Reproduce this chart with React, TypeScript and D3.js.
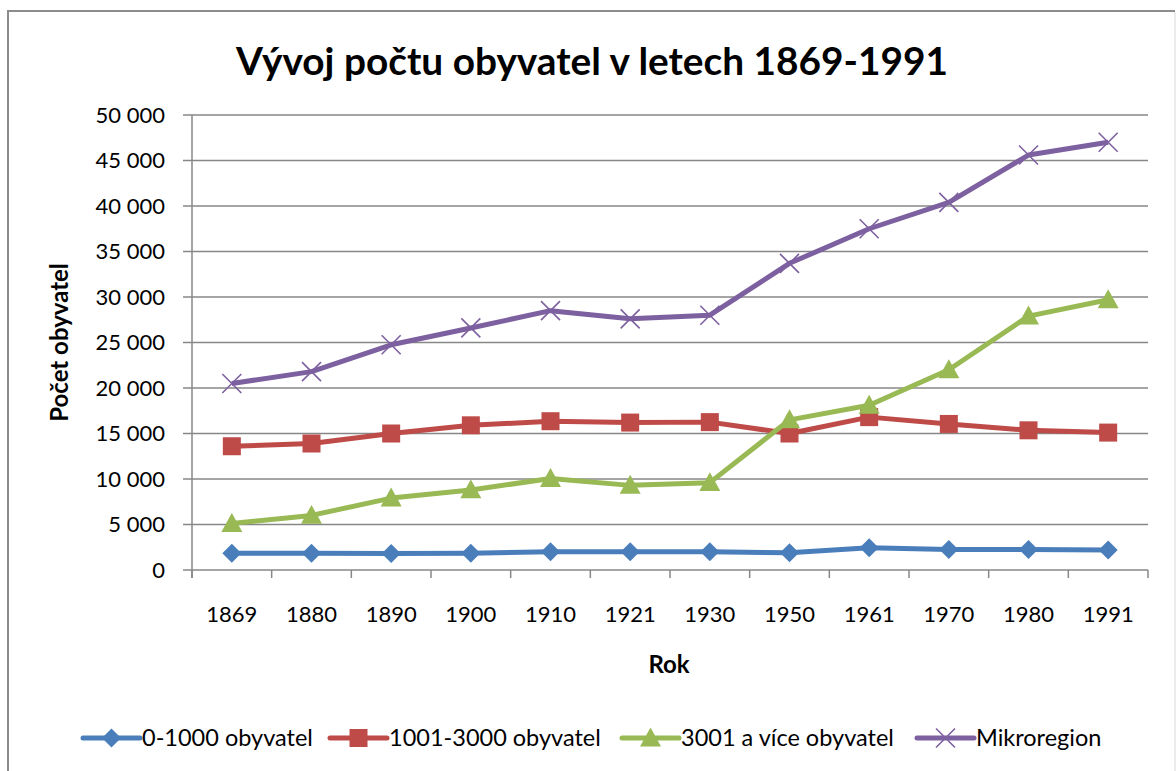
import * as d3 from 'd3';
import React from 'react';

const years = ['1869', '1880', '1890', '1900', '1910', '1921', '1930', '1950', '1961', '1970', '1980', '1991'];
const small = [1850, 1850, 1800, 1850, 2000, 2000, 2000, 1900, 2450, 2250, 2250, 2200];
const middle = [13600, 13900, 15000, 15900, 16350, 16200, 16250, 15000, 16800, 16050, 15350, 15100];
const large = [5100, 6000, 7900, 8800, 10050, 9300, 9600, 16500, 18100, 22000, 27900, 29700];
const micro = [20500, 21800, 24750, 26600, 28500, 27600, 28000, 33700, 37500, 40400, 45600, 47000];
const yTicks = [0, 5000, 10000, 15000, 20000, 25000, 30000, 35000, 40000, 45000, 50000];

const series = [
  { name: '0-1000 obyvatel', values: small, color: '#4a7ebb', marker: 'diamond' },
  { name: '1001-3000 obyvatel', values: middle, color: '#be4b48', marker: 'square' },
  { name: '3001 a více obyvatel', values: large, color: '#98b954', marker: 'triangle' },
  { name: 'Mikroregion', values: micro, color: '#7d60a0', marker: 'x' },
];

const font = 'Lato, "Open Sans", sans-serif';
const W = 1176;
const H = 771;
const left = 192;
const right = 1148;
const top = 115;
const bottom = 570;

const fmt = (v: number) => d3.format(',')(v).replace(/,/g, ' ');

function Marker({ kind, x, y, color }: { kind: string; x: number; y: number; color: string }) {
  if (kind === 'diamond') {
    const r = 9.5;
    return <path d={`M${x},${y - r}L${x + r},${y}L${x},${y + r}L${x - r},${y}Z`} fill={color} />;
  }
  if (kind === 'square') {
    const r = 9;
    return <rect x={x - r} y={y - r} width={r * 2} height={r * 2} fill={color} />;
  }
  if (kind === 'triangle') {
    const r = 10.5;
    return <path d={`M${x},${y - r}L${x + r},${y + r * 0.8}L${x - r},${y + r * 0.8}Z`} fill={color} />;
  }
  const r = 9.5;
  return (
    <path
      d={`M${x - r},${y - r}L${x + r},${y + r}M${x - r},${y + r}L${x + r},${y - r}`}
      stroke={color}
      strokeWidth={1.6}
      fill="none"
    />
  );
}

export default function App() {
  const x = d3.scaleBand().domain(years).range([left, right]);
  const y = d3.scaleLinear().domain([0, 50000]).range([bottom, top]);
  const cx = (yr: string) => (x(yr) as number) + x.bandwidth() / 2;

  const line = d3
    .line<number>()
    .x((_, i) => cx(years[i]))
    .y((d) => y(d));

  const legendX = [83, 330, 622, 917];

  return (
    <svg width={W} height={H} style={{ position: 'absolute', left: 0, top: 0 }} fontFamily={font}>
      <rect x={0} y={0} width={W} height={H} fill="#fff" />
      {/* frame */}
      <line x1={8} y1={11} x2={1175} y2={11} stroke="#8c8c8c" strokeWidth={2} />
      <line x1={8} y1={10} x2={8} y2={H} stroke="#8c8c8c" strokeWidth={2} />
      <line x1={1175} y1={12} x2={1175} y2={H} stroke="#d9d9d9" strokeWidth={1} />

      <text x={592} y={75} textAnchor="middle" fontSize={38.8} fontWeight="bold" fill="#000">
        Vývoj počtu obyvatel v letech 1869-1991
      </text>

      {/* grid + y axis */}
      {yTicks.map((t) => (
        <g key={t}>
          <line x1={left - 9} x2={right} y1={y(t)} y2={y(t)} stroke="#878787" strokeWidth={1.5} />
          <text x={165} y={y(t)} dy="0.35em" textAnchor="end" fontSize={22} fill="#000">
            {fmt(t)}
          </text>
        </g>
      ))}
      <line x1={left} x2={left} y1={top} y2={bottom + 8} stroke="#878787" strokeWidth={1.5} />

      {/* x axis */}
      {years.map((yr) => (
        <g key={yr}>
          <line x1={x(yr) as number} x2={x(yr) as number} y1={bottom} y2={bottom + 8} stroke="#878787" strokeWidth={1.5} />
          <text x={cx(yr)} y={614} dy="0.35em" textAnchor="middle" fontSize={22} fill="#000">
            {yr}
          </text>
        </g>
      ))}
      <line x1={right} x2={right} y1={bottom} y2={bottom + 8} stroke="#878787" strokeWidth={1.5} />

      <text x={669} y={665} dy="0.35em" textAnchor="middle" fontSize={24} fontWeight="bold" fill="#000">
        Rok
      </text>
      <text
        transform={`translate(60,${(top + bottom) / 2}) rotate(-90)`}
        textAnchor="middle"
        dy="0.35em"
        fontSize={24}
        fontWeight="bold"
        fill="#000"
      >
        Počet obyvatel
      </text>

      {/* series */}
      {series.map((s) => (
        <g key={s.name}>
          <path d={line(s.values) as string} fill="none" stroke={s.color} strokeWidth={5} strokeLinejoin="round" />
          {s.values.map((v, i) => (
            <Marker key={i} kind={s.marker} x={cx(years[i])} y={y(v)} color={s.color} />
          ))}
        </g>
      ))}

      {/* legend */}
      {series.map((s, i) => (
        <g key={s.name}>
          <line x1={legendX[i]} x2={legendX[i] + 57} y1={738} y2={738} stroke={s.color} strokeWidth={5} strokeLinecap="round" />
          <Marker kind={s.marker} x={legendX[i] + 28.5} y={738} color={s.color} />
          <text x={legendX[i] + 59} y={738} dy="0.35em" fontSize={23.5} fill="#000">
            {s.name}
          </text>
        </g>
      ))}
    </svg>
  );
}
